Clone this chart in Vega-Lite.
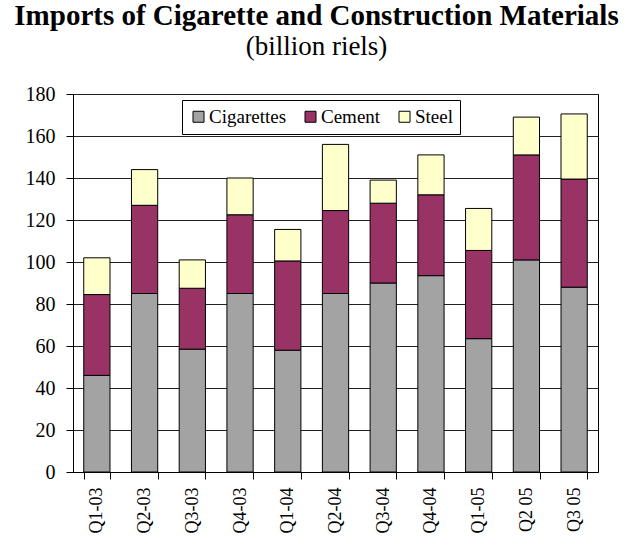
{
  "$schema": "https://vega.github.io/schema/vega-lite/v6.json",
  "autosize": {"type": "none"},
  "padding": {"left": 73, "top": 94, "right": 31, "bottom": 68},
  "width": 525,
  "height": 378,
  "background": "white",
  "title": {
    "text": "Imports of Cigarette and Construction Materials",
    "subtitle": "(billion riels)",
    "font": "Liberation Serif",
    "fontSize": 29,
    "fontWeight": "bold",
    "color": "black",
    "subtitleFont": "Liberation Serif",
    "subtitleFontSize": 27,
    "subtitleFontWeight": "normal",
    "subtitleColor": "black",
    "subtitlePadding": 3,
    "anchor": "middle",
    "frame": "group",
    "dx": -19,
    "offset": 24
  },
  "config": {
    "font": "Liberation Serif",
    "view": {"stroke": "black", "strokeWidth": 1}
  },
  "data": {
    "values": [
      {"q": "Q1-03", "item": "Cigarettes", "v": 46},
      {"q": "Q1-03", "item": "Cement", "v": 38.5},
      {"q": "Q1-03", "item": "Steel", "v": 17.5},
      {"q": "Q2-03", "item": "Cigarettes", "v": 85},
      {"q": "Q2-03", "item": "Cement", "v": 42},
      {"q": "Q2-03", "item": "Steel", "v": 17},
      {"q": "Q3-03", "item": "Cigarettes", "v": 58.5},
      {"q": "Q3-03", "item": "Cement", "v": 29},
      {"q": "Q3-03", "item": "Steel", "v": 13.5},
      {"q": "Q4-03", "item": "Cigarettes", "v": 85},
      {"q": "Q4-03", "item": "Cement", "v": 37.5},
      {"q": "Q4-03", "item": "Steel", "v": 17.5},
      {"q": "Q1-04", "item": "Cigarettes", "v": 58},
      {"q": "Q1-04", "item": "Cement", "v": 42.5},
      {"q": "Q1-04", "item": "Steel", "v": 15},
      {"q": "Q2-04", "item": "Cigarettes", "v": 85},
      {"q": "Q2-04", "item": "Cement", "v": 39.5},
      {"q": "Q2-04", "item": "Steel", "v": 31.5},
      {"q": "Q3-04", "item": "Cigarettes", "v": 90},
      {"q": "Q3-04", "item": "Cement", "v": 38},
      {"q": "Q3-04", "item": "Steel", "v": 11},
      {"q": "Q4-04", "item": "Cigarettes", "v": 93.5},
      {"q": "Q4-04", "item": "Cement", "v": 38.5},
      {"q": "Q4-04", "item": "Steel", "v": 19},
      {"q": "Q1-05", "item": "Cigarettes", "v": 63.5},
      {"q": "Q1-05", "item": "Cement", "v": 42},
      {"q": "Q1-05", "item": "Steel", "v": 20},
      {"q": "Q2 05", "item": "Cigarettes", "v": 101},
      {"q": "Q2 05", "item": "Cement", "v": 50},
      {"q": "Q2 05", "item": "Steel", "v": 18},
      {"q": "Q3 05", "item": "Cigarettes", "v": 88},
      {"q": "Q3 05", "item": "Cement", "v": 51.5},
      {"q": "Q3 05", "item": "Steel", "v": 31}
    ]
  },
  "transform": [
    {"calculate": "indexof(['Cigarettes', 'Cement', 'Steel'], datum.item)", "as": "stackOrder"}
  ],
  "mark": {"type": "bar", "stroke": "black", "strokeWidth": 1},
  "encoding": {
    "x": {
      "field": "q",
      "type": "nominal",
      "sort": null,
      "scale": {"paddingInner": 0.45, "paddingOuter": 0.225},
      "axis": {
        "title": null,
        "labelAngle": -90,
        "labelFont": "Liberation Serif",
        "labelFontSize": 18,
        "labelColor": "black",
        "labelPadding": 8,
        "tickBand": "extent",
        "tickSize": 7,
        "tickColor": "black",
        "domainColor": "black"
      }
    },
    "y": {
      "field": "v",
      "type": "quantitative",
      "stack": "zero",
      "scale": {"domain": [0, 180], "nice": false},
      "axis": {
        "title": null,
        "values": [0, 20, 40, 60, 80, 100, 120, 140, 160, 180],
        "labelFont": "Liberation Serif",
        "labelFontSize": 20,
        "labelColor": "black",
        "labelPadding": 11,
        "tickSize": 7,
        "tickColor": "black",
        "domainColor": "black",
        "gridColor": "#222222",
        "gridWidth": 1,
        "gridOpacity": 1
      }
    },
    "color": {
      "field": "item",
      "type": "nominal",
      "scale": {
        "domain": ["Cigarettes", "Cement", "Steel"],
        "range": ["#a3a3a3", "#993366", "#ffffcc"]
      },
      "legend": {
        "title": null,
        "orient": "none",
        "legendX": 109,
        "legendY": 6,
        "direction": "horizontal",
        "symbolType": "square",
        "symbolSize": 121,
        "symbolStrokeColor": "black",
        "symbolStrokeWidth": 1,
        "labelFont": "Liberation Serif",
        "labelFontSize": 19,
        "labelColor": "black",
        "labelOffset": 1,
        "columnPadding": 14,
        "padding": 7,
        "strokeColor": "black",
        "fillColor": "white"
      }
    },
    "order": {"field": "stackOrder", "type": "quantitative", "sort": "ascending"}
  }
}
